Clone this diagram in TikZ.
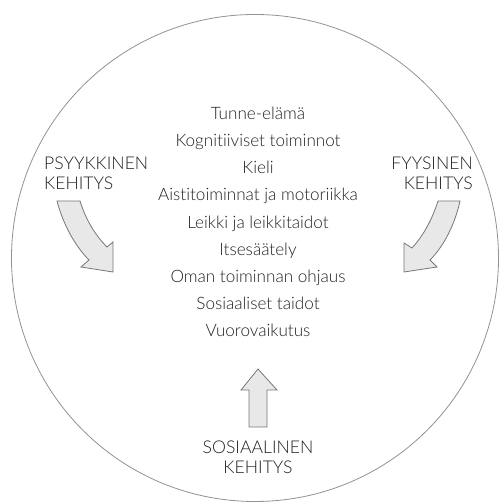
\documentclass[tikz,border=0pt]{standalone}
\usepackage{fontspec}
\setmainfont{Lato}[UprightFont=* Light,Ligatures={NoCommon}]
\definecolor{txt}{HTML}{222222}
\definecolor{arrfill}{HTML}{E8E8E8}
\definecolor{arrline}{HTML}{777777}
\begin{document}
\begin{tikzpicture}[x=1pt,y=1pt,
  lbl/.style={text=txt,font=\fontsize{17.6}{20}\selectfont,inner sep=0pt},
  bigarrow/.style={fill=arrfill,draw=arrline,line width=0.8pt,line join=miter}]
\useasboundingbox (0,0) rectangle (499,502);
\fill[white] (0,0) rectangle (499,502);
\draw[draw=arrline!80,line width=0.8pt] (255,244) circle (243.5);
\node[lbl,align=center,font=\fontsize{17.1}{27.2}\selectfont] (list) at (258,280)
 {Tunne-elämä\\Kognitiiviset toiminnot\\Kieli\\Aistitoiminnat ja motoriikka\\Leikki ja leikkitaidot\\Itsesäätely\\Oman toiminnan ohjaus\\Sosiaaliset taidot\\Vuorovaikutus};
\node[lbl,align=left,anchor=west] (psy) at (44,329) {PSYYKKINEN\\KEHITYS};
\node[lbl,align=right,anchor=east] (fyy) at (473,329) {FYYSINEN\\KEHITYS};
\node[lbl,align=center] (sos) at (258,45) {SOSIAALINEN\\KEHITYS};
% left curved arrow
\draw[bigarrow] (57,301) -- (80,301) .. controls (86,282) and (95,267) .. (107,255)
  -- (113,260) -- (113,230) -- (81,235) -- (89,242)
  .. controls (75,256) and (63,278) .. cycle;
% right curved arrow
\draw[bigarrow] (460,301) -- (438,301) .. controls (432,282) and (423,266) .. (412,254)
  -- (404,259) -- (404,230) -- (437,235) -- (430,242)
  .. controls (444,256) and (455,278) .. cycle;
% up arrow
\draw[bigarrow] (249,75) -- (249,112) -- (241,112) -- (258,133) -- (277,112)
  -- (267,112) -- (267,75) -- cycle;
\end{tikzpicture}
\end{document}
